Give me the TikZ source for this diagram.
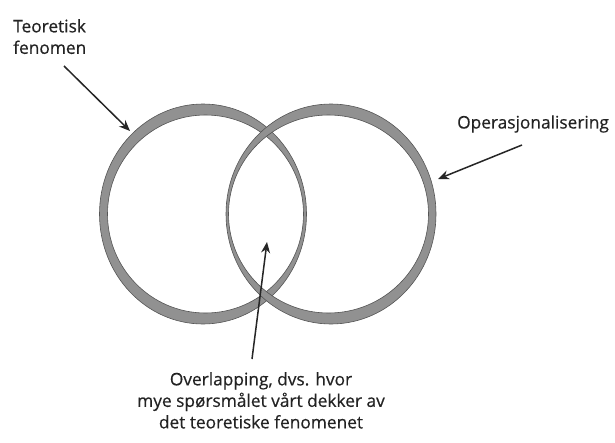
\documentclass[tikz,border=0pt]{standalone}
\usepackage{fontspec}
\setmainfont[FakeBold=0.4]{Open Sans}
\usetikzlibrary{arrows.meta}
\definecolor{ringgrey}{RGB}{145,145,145}
\definecolor{ringedge}{RGB}{85,85,85}
\definecolor{txtgrey}{RGB}{35,35,35}
\begin{document}
\begin{tikzpicture}[x=1pt,y=-1pt,
  ring/.style={fill=ringgrey,draw=ringedge,line width=0.6pt,even odd rule},
  lbl/.style={font=\fontsize{17.3}{21.5}\selectfont,text=txtgrey,inner sep=0pt},
  pointer/.style={draw=black!85,line width=1.5pt,-{Stealth[length=11pt,width=9pt]}}]
\useasboundingbox[fill=white] (0,0) rectangle (615,442);
% left ring
\path[ring] (203,214) ellipse [x radius=103.5, y radius=110]
            (205.5,214) ellipse [x radius=98, y radius=99];
% right ring
\path[ring] (331,214) ellipse [x radius=105, y radius=110]
            (328.5,214) ellipse [x radius=100, y radius=99];
% labels
\node[lbl,align=left,anchor=north west] (teo) at (13,19) {Teoretisk\\fenomen};
\node[lbl,anchor=west] (op) at (457,124) {Operasjonalisering};
\node[lbl,align=center,anchor=north] (ov) at (261,372) {Overlapping, dvs. hvor\\mye spørsmålet vårt dekker av\\det teoretiske fenomenet};
% arrow ends
\coordinate (teoS) at (64,66);
\coordinate (teoT) at (130,131);
\coordinate (opS) at (522,145);
\coordinate (opT) at (438,179);
\coordinate (ovS) at (252,359);
\coordinate (ovT) at (267,242);
\draw[pointer] (teoS) -- (teoT);
\draw[pointer] (opS) -- (opT);
\draw[pointer] (ovS) -- (ovT);
\end{tikzpicture}
\end{document}
